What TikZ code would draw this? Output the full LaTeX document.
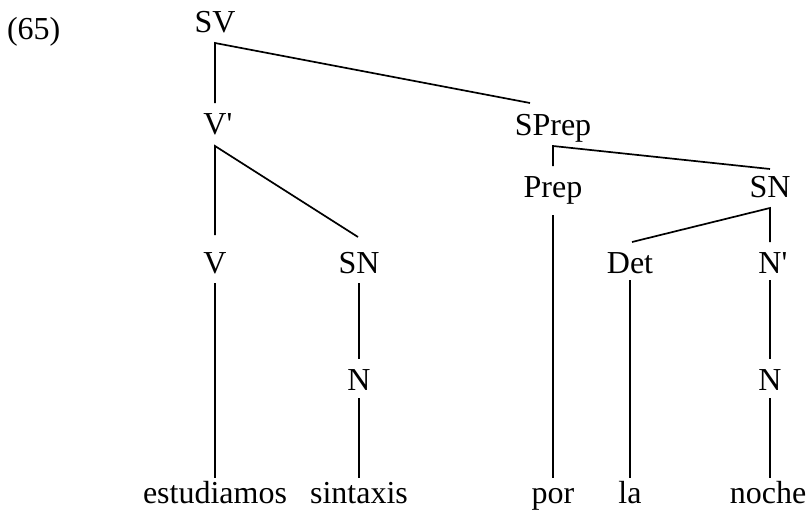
\documentclass[tikz,border=0pt]{standalone}
\usepackage{fontspec}
\setmainfont{Liberation Serif}
\begin{document}
\begin{tikzpicture}[x=1pt,y=-1pt,
  lbl/.style={font=\fontsize{32}{37}\selectfont, anchor=base, inner sep=0pt, outer sep=0pt},
  edge/.style={line width=1.7pt, line cap=butt}]
\useasboundingbox (0,0) rectangle (808,511);
% labels
\node[lbl, anchor=base west] (ex) at (7,40) {(65)};
\node[lbl, text height=20pt, text depth=10pt] (sv) at (215,33) {SV};
\node[lbl, text height=31pt, text depth=12pt] (vbar) at (215,134) {V\rlap{\textquotesingle}};
\node[lbl, text height=32pt, text depth=11pt] (sprep) at (553,135) {SPrep};
\node[lbl, text height=31pt, text depth=18pt] (prep) at (553,197) {Prep};
\node[lbl, text height=28pt, text depth=11pt] (sn2) at (770,197) {SN};
\node[lbl, text height=38pt, text depth=10pt] (v) at (215,273) {V};
\node[lbl, text height=36pt, text depth=10pt] (sn1) at (359,273) {SN};
\node[lbl, text height=31pt, text depth=7pt] (det) at (630,273) {Det};
\node[lbl, text height=31pt, text depth=7pt] (nbar) at (770,273) {N\rlap{\textquotesingle}};
\node[lbl, text height=31pt, text depth=8pt] (n1) at (359,390) {N};
\node[lbl, text height=31pt, text depth=8pt] (n2) at (770,390) {N};
\node[lbl, text height=25pt] (w1) at (215,503) {estudiamos};
\node[lbl, text height=25pt] (w2) at (359,503) {sintaxis};
\node[lbl, text height=25pt] (w3) at (553,503) {por};
\node[lbl, text height=25pt] (w4) at (630,503) {la};
\node[lbl, text height=25pt] (w5) at (768,503) {noche};
\coordinate (spreptop) at (530,103);
\coordinate (snonetop) at (358,237);
\coordinate (dettop) at (632,242);
% edges
\draw[edge] (vbar.north) -- (sv.south) -- (spreptop);
\draw[edge] (v.north) -- (vbar.south) -- (snonetop);
\draw[edge] (prep.north) -- (sprep.south) -- (sn2.north);
\draw[edge] (dettop) -- (sn2.south) -- (nbar.north);
\draw[edge] (v.south) -- (w1.north);
\draw[edge] (sn1.south) -- (n1.north);
\draw[edge] (n1.south) -- (w2.north);
\draw[edge] (prep.south) -- (w3.north);
\draw[edge] (det.south) -- (w4.north);
\draw[edge] (nbar.south) -- (n2.north);
\draw[edge] (n2.south) -- (w5.north -| n2.south);
\end{tikzpicture}
\end{document}
